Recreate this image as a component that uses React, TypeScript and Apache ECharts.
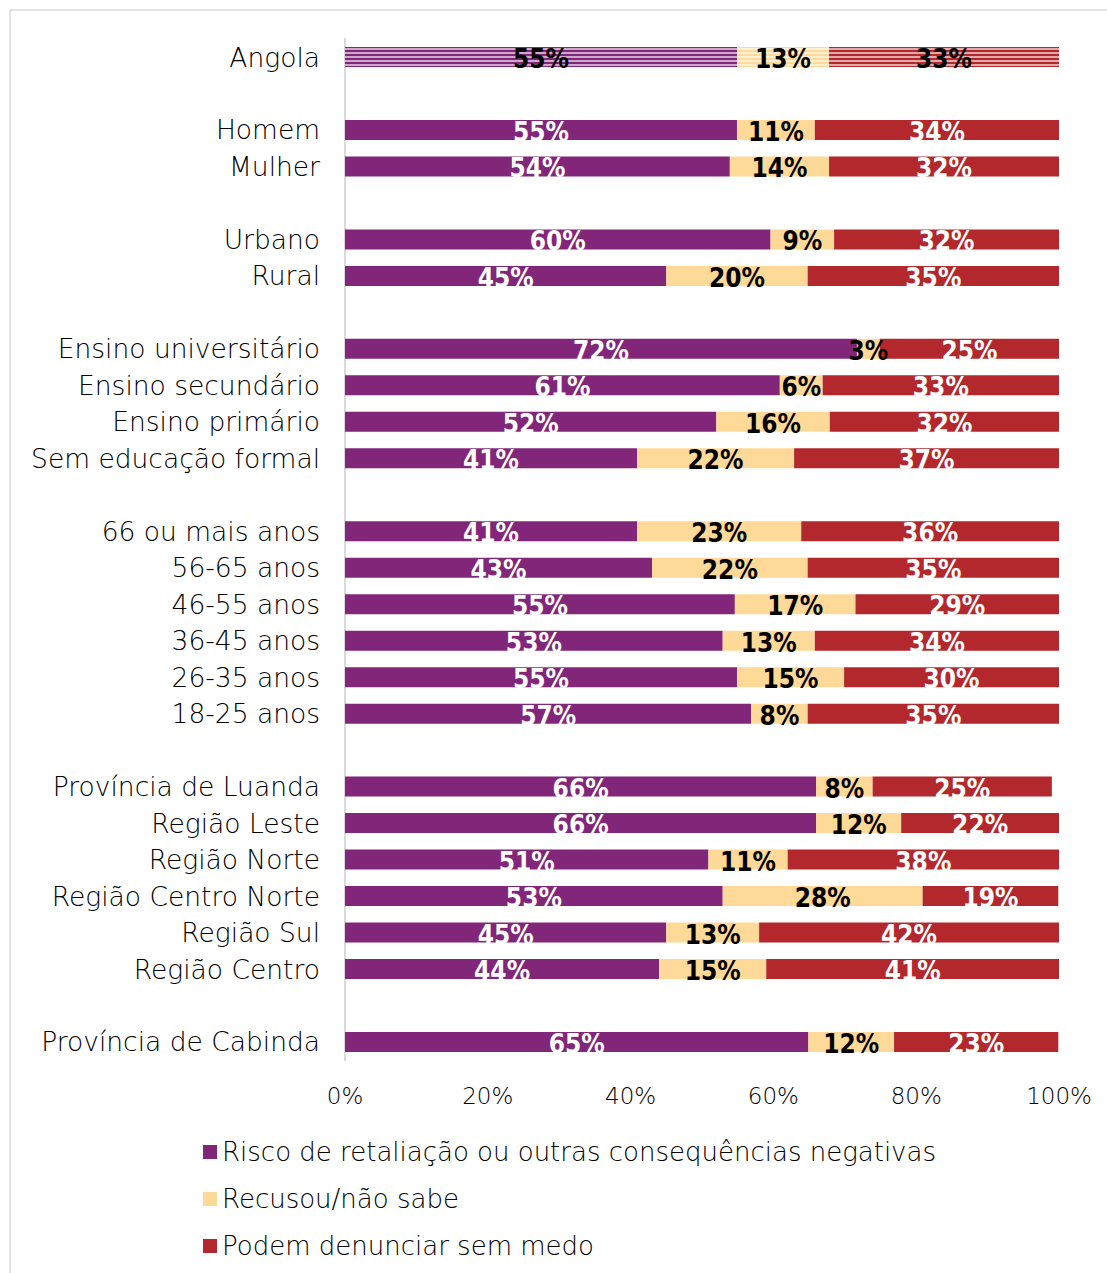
import React, { useEffect, useRef } from "react";
import * as echarts from "echarts";

const categories = [
  "Angola", " ",
  "Homem", "Mulher", "  ",
  "Urbano", "Rural", "   ",
  "Ensino universitário", "Ensino secundário", "Ensino primário", "Sem educação formal", "    ",
  "66 ou mais anos", "56-65 anos", "46-55 anos", "36-45 anos", "26-35 anos", "18-25 anos", "     ",
  "Província de Luanda", "Região Leste", "Região Norte", "Região Centro Norte", "Região Sul", "Região Centro", "      ",
  "Província de Cabinda",
];

const risco = [54.9, null, 54.9, 53.9, null, 59.6, 45.0, null, 71.7, 60.9, 52.0, 40.9, null, 40.9, 43.0, 54.6, 52.9, 54.9, 56.9, null, 66.0, 66.0, 50.9, 52.9, 45.0, 44.0, null, 64.9];
const recusou = [12.9, null, 10.9, 13.9, null, 8.9, 19.8, null, 3.2, 6.0, 15.9, 22.0, null, 23.0, 21.8, 16.9, 12.9, 15.0, 7.9, null, 7.9, 11.9, 11.1, 28.0, 13.0, 15.0, null, 12.0];
const podem = [32.6, null, 34.2, 32.2, null, 31.6, 35.2, null, 25.1, 33.1, 32.1, 37.1, null, 36.1, 35.2, 28.6, 34.2, 30.1, 35.2, null, 25.1, 22.1, 38.0, 19.0, 42.0, 41.0, null, 23.0];

const seriesNames = [
  "Risco de retaliação ou outras consequências negativas",
  "Recusou/não sabe",
  "Podem denunciar sem medo",
];
const colors = ["#82267A", "#FFD997", "#B3282D"];
const labelColors = ["#ffffff", "#000000", "#ffffff"];
const xTicks = [0, 20, 40, 60, 80, 100];

const LABEL_FONT = "'Liberation Sans Narrow', 'DejaVu Sans Condensed', sans-serif";
const TEXT_FONT = "'DejaVu Sans', sans-serif";

export default function App() {
  const ref = useRef<HTMLDivElement>(null);
  useEffect(() => {
    if (!ref.current) return;
    document.body.style.margin = "0";
    const chart = echarts.init(ref.current, null, { renderer: "svg" });
    const allData = [risco, recusou, podem];
    const series = allData.map((arr, si) => ({
      name: seriesNames[si],
      type: "bar",
      stack: "total",
      barWidth: 20,
      itemStyle: { color: colors[si] },
      label: {
        show: true,
        position: "inside",
        offset: [0, 2],
        color: labelColors[si],
        fontFamily: LABEL_FONT,
        fontWeight: "bold",
        fontSize: 26,
        formatter: (p: any) => Math.round(p.value) + "%",
      },
      data: arr.map((v, i) => {
        if (v === null) return null;
        if (i === 0) {
          return {
            value: v,
            label: { color: "#000000" },
            itemStyle: {
              color: colors[si],
              decal: {
                symbol: "rect",
                symbolSize: 1,
                dashArrayX: [[1, 0]],
                dashArrayY: [1.6, 2],
                rotation: 0,
                color: "rgba(255,255,255,0.6)",
              },
            },
          };
        }
        return v;
      }),
    }));

    chart.setOption({
      animation: false,
      backgroundColor: "#ffffff",
      graphic: [
        {
          type: "rect",
          shape: { x: 10, y: 10, width: 1120, height: 1290 },
          style: { fill: "none", stroke: "#d9d9d9", lineWidth: 1.5 },
          silent: true,
          z: -1,
        },
      ],
      grid: { left: 345, right: 48, top: 38.8, bottom: 212.8, containLabel: false },
      xAxis: {
        type: "value",
        min: 0,
        max: 100,
        interval: 20,
        axisLine: { show: false },
        axisTick: { show: false },
        splitLine: { show: false },
        axisLabel: {
          formatter: (v: number) => (xTicks.includes(v) ? v + "%" : ""),
          fontFamily: TEXT_FONT,
          fontWeight: 300,
          fontSize: 23,
          color: "#000",
          margin: 24,
        },
      },
      yAxis: {
        type: "category",
        inverse: true,
        data: categories,
        axisLine: { show: true, lineStyle: { color: "#d9d9d9", width: 2 } },
        axisTick: { show: false },
        axisLabel: {
          fontFamily: TEXT_FONT,
          fontWeight: 300,
          fontSize: 26.5,
          color: "#000",
          margin: 25,
          interval: 0,
        },
      },
      legend: {
        orient: "vertical",
        left: 198,
        top: 1134,
        icon: "rect",
        itemWidth: 14,
        itemHeight: 14,
        itemGap: 21,
        textStyle: { fontFamily: TEXT_FONT, fontWeight: 300, fontSize: 26, color: "#000" },
        data: seriesNames,
      },
      series,
    });
    return () => chart.dispose();
  }, []);
  return (
    <div
      ref={ref}
      style={{ position: "absolute", left: 0, top: 0, width: 1107, height: 1273 }}
    />
  );
}
